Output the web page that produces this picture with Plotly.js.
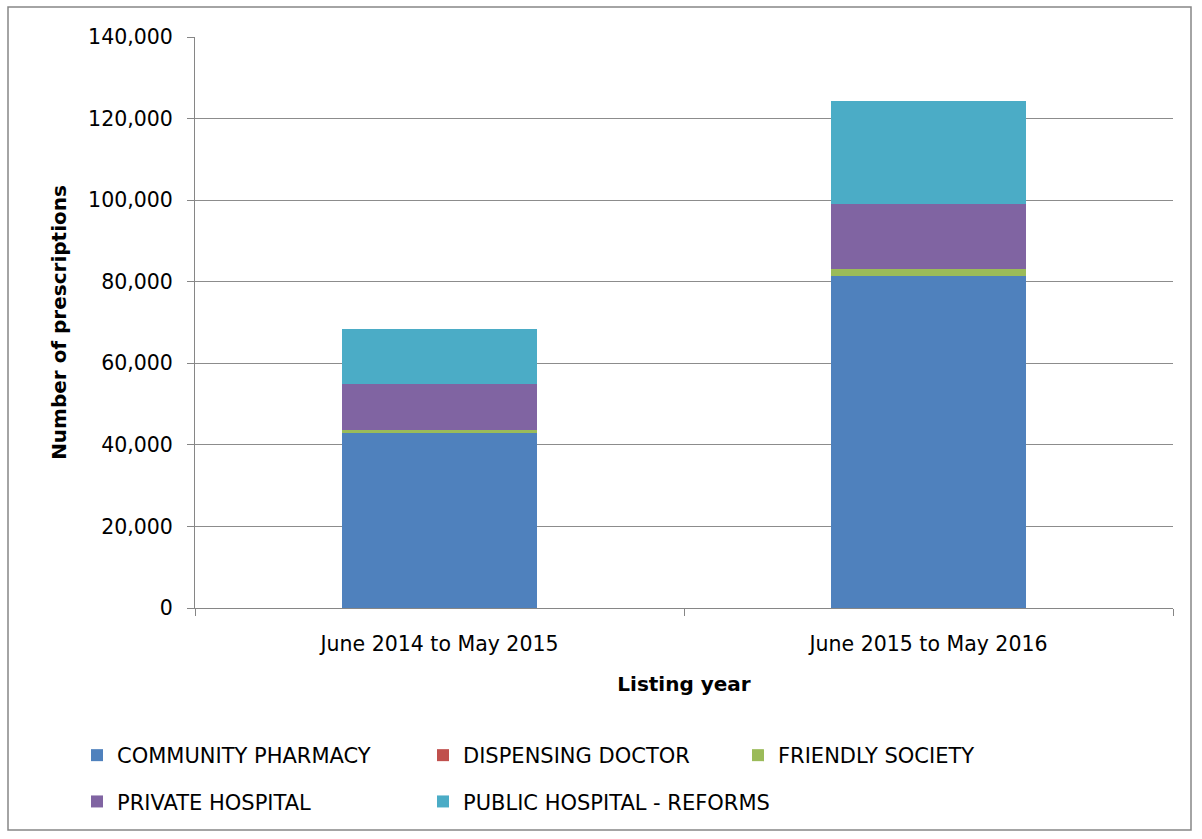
<!DOCTYPE html>
<html>
<head>
<meta charset="utf-8">
<script src="https://cdn.plot.ly/plotly-3.0.1.min.js"></script>
<style>html,body{margin:0;padding:0;background:#fff;}#chart{width:1202px;height:839px;}</style>
</head>
<body>
<div id="chart"></div>
<script>
var categories = ["June 2014 to May 2015", "June 2015 to May 2016"];
var communityPharmacy = [42860, 81300];
var dispensingDoctor = [30, 30];
var friendlySociety = [810, 1780];
var privateHospital = [11190, 15840];
var publicHospitalReforms = [13610, 25360];
var yTickVals = [0, 20000, 40000, 60000, 80000, 100000, 120000, 140000];
var yTickText = ["0", "20,000", "40,000", "60,000", "80,000", "100,000", "120,000", "140,000"];

var FONT = "DejaVu Sans, Liberation Sans, Arial, sans-serif";

function tr(name, vals, color, legend, group) {
  return {type: "bar", name: name, x: categories, y: vals,
    marker: {color: color, line: {width: 0}}, legend: legend, legendgroup: group,
    hoverinfo: "skip"};
}
var data = [
  tr("COMMUNITY PHARMACY", communityPharmacy, "#4f81bd", "legend", "a"),
  tr("DISPENSING DOCTOR", dispensingDoctor, "#c0504d", "legend2", "b"),
  tr("FRIENDLY SOCIETY", friendlySociety, "#9bbb59", "legend3", "c"),
  tr("PRIVATE HOSPITAL", privateHospital, "#8064a2", "legend", "d"),
  tr("PUBLIC HOSPITAL - REFORMS", publicHospitalReforms, "#4bacc6", "legend2", "e")
];

var W = 978, H = 571, L = 195, T = 37;
function px(x){ return (x - L) / W; }
function py(y){ return (T + H - y) / H; }
var legFont = {family: FONT, size: 21, color: "#000"};
function leg(xpix) {
  return {x: px(xpix), y: py(735), xanchor: "left", yanchor: "top", orientation: "v",
    font: legFont, tracegroupgap: 16, bgcolor: "rgba(0,0,0,0)", itemclick: false};
}

var layout = {
  width: 1202, height: 839,
  margin: {l: L, r: 1202 - L - W, t: T, b: 839 - T - H, pad: 0},
  paper_bgcolor: "#fff", plot_bgcolor: "#fff",
  barmode: "stack", bargap: 0.6,
  font: {family: FONT, size: 20, color: "#000"},
  showlegend: true,
  xaxis: {
    type: "category", tickson: "boundaries", ticks: "outside", ticklen: 7,
    tickcolor: "#868686", showline: true, linecolor: "#868686", linewidth: 1,
    showgrid: false, tickfont: {family: FONT, size: 20.5, color: "#000"},
    ticklabelstandoff: 17,
    title: {text: "<b>Listing year</b>", font: {family: FONT, size: 20, color: "#000"}, standoff: 22}
  },
  yaxis: {
    range: [0, 140000], tickvals: yTickVals, ticktext: yTickText,
    ticks: "outside", ticklen: 7, tickcolor: "#868686",
    showline: true, linecolor: "#868686", linewidth: 1,
    showgrid: true, gridcolor: "#8c8c8c", gridwidth: 1, zeroline: false,
    tickfont: {family: FONT, size: 20.5, color: "#000"},
    ticklabelstandoff: 10,
    title: {text: "<b>Number of prescriptions</b>", font: {family: FONT, size: 20, color: "#000"}, standoff: 16}
  },
  legend: leg(77),
  legend2: leg(423),
  legend3: leg(738),
  shapes: [{type: "rect", xref: "paper", yref: "paper",
    x0: px(8), x1: px(1191), y0: py(830), y1: py(7),
    line: {color: "#868686", width: 1.5}, fillcolor: "rgba(0,0,0,0)", layer: "below"}]
};

Plotly.newPlot("chart", data, layout, {displayModeBar: false, staticPlot: true});
</script>
</body>
</html>
